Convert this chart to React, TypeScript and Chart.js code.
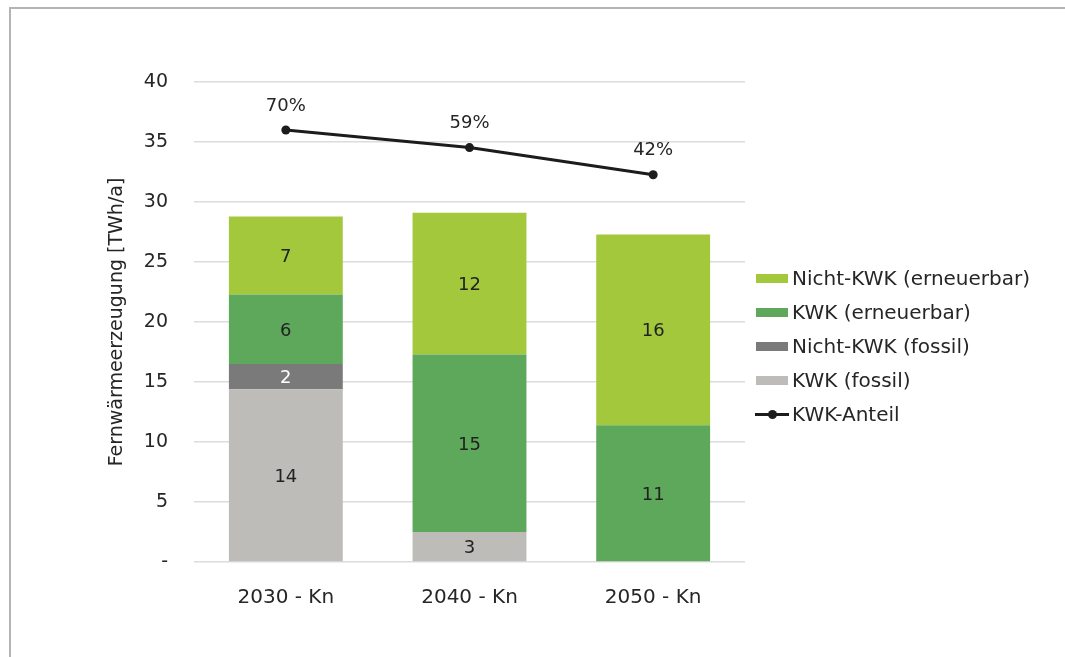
import React, { useEffect, useRef } from "react";
import { Chart, registerables } from "chart.js";

Chart.register(...registerables);

// ---- data ----
const categories = ["2030 - Kn", "2040 - Kn", "2050 - Kn"];
const kwkFossil = [14.4, 2.5, 0];
const nichtKwkFossil = [2.1, 0, 0];
const kwkErneuerbar = [5.8, 14.8, 11.4];
const nichtKwkErneuerbar = [6.5, 11.8, 15.9];
const kwkAnteil = [70, 59, 42];
const yTickValues = [0, 5, 10, 15, 20, 25, 30, 35, 40];

const seriesNames = [
  "KWK (fossil)",
  "Nicht-KWK (fossil)",
  "KWK (erneuerbar)",
  "Nicht-KWK (erneuerbar)",
];
const lineName = "KWK-Anteil";
const yTitle = "Fernwärmeerzeugung [TWh/a]";

// ---- styles ----
const FONT = "'DejaVu Sans', Verdana, sans-serif";
const barColors = ["#bdbcb8", "#7a7a7a", "#5da85b", "#a3c83b"];
const barLabelColors = ["#222222", "#ffffff", "#222222", "#222222"];
const lineColor = "#1c1c1c";
const textColor = "#262626";

const labelsPlugin = {
  id: "segmentLabels",
  afterDatasetsDraw(chart: any) {
    const ctx = chart.ctx;
    ctx.save();
    ctx.textAlign = "center";
    ctx.textBaseline = "middle";
    chart.data.datasets.forEach((ds: any, i: number) => {
      const meta = chart.getDatasetMeta(i);
      if (meta.hidden) return;
      meta.data.forEach((el: any, j: number) => {
        const v = ds.data[j];
        if (!v) return;
        ctx.font = `18px ${FONT}`;
        if (ds.type === "line") {
          ctx.fillStyle = textColor;
          ctx.fillText(`${v}%`, el.x, el.y - 24);
        } else {
          const p = el.getProps(["x", "y", "base"], true);
          ctx.fillStyle = ds.labelColor;
          ctx.fillText(String(Math.round(v)), p.x, (p.y + p.base) / 2 + 2);
        }
      });
    });
    ctx.restore();
  },
};

export default function App() {
  const canvasRef = useRef<HTMLCanvasElement | null>(null);

  useEffect(() => {
    if (!canvasRef.current) return;
    const barSeries = [kwkFossil, nichtKwkFossil, kwkErneuerbar, nichtKwkErneuerbar];
    const chart = new Chart(canvasRef.current, {
      type: "bar",
      data: {
        labels: categories,
        datasets: [
          {
            type: "line",
            label: lineName,
            data: kwkAnteil,
            yAxisID: "y1",
            borderColor: lineColor,
            backgroundColor: lineColor,
            borderWidth: 3,
            pointRadius: 4.5,
            pointBackgroundColor: lineColor,
            pointBorderWidth: 0,
            order: 0,
          } as any,
          ...barSeries.map((d, i) => ({
            type: "bar",
            label: seriesNames[i],
            data: d,
            backgroundColor: barColors[i],
            borderWidth: 0,
            stack: "s",
            yAxisID: "y",
            order: 1,
            labelColor: barLabelColors[i],
            categoryPercentage: 1,
            barPercentage: 0.62,
          })),
        ],
      },
      options: {
        animation: false,
        responsive: true,
        maintainAspectRatio: false,
        layout: { padding: { left: 106, right: 320, top: 82, bottom: 0 } },
        plugins: { legend: { display: false }, tooltip: { enabled: false } },
        scales: {
          x: {
            stacked: true,
            grid: { display: false },
            border: { display: false },
            ticks: { color: textColor, font: { family: FONT, size: 20 }, padding: 16 },
            afterFit(scale: any) {
              scale.height = 95;
            },
          },
          y: {
            stacked: true,
            min: 0,
            max: 40,
            afterBuildTicks(scale: any) {
              scale.ticks = yTickValues.map((v) => ({ value: v }));
            },
            grid: { color: "#dcdcdc", lineWidth: 1.5, drawTicks: false },
            border: { display: false },
            ticks: {
              color: textColor,
              font: { family: FONT, size: 19 },
              padding: 26,
              callback: (v: any) => (v === 0 ? "-" : String(v)),
            },
            title: {
              display: true,
              text: yTitle,
              color: textColor,
              font: { family: FONT, size: 19 },
              padding: { top: 0, bottom: 0 },
            },
            afterFit(scale: any) {
              scale.width = 88;
            },
          },
          y1: {
            display: false,
            min: -200,
            max: 100,
          },
        },
      },
      plugins: [labelsPlugin],
    });
    return () => chart.destroy();
  }, []);

  const legendItems = [3, 2, 1, 0].map((i) => ({ name: seriesNames[i], color: barColors[i] }));

  return (
    <div
      style={{
        position: "fixed",
        left: 0,
        top: 0,
        width: 1065,
        height: 657,
        background: "#fff",
        overflow: "hidden",
      }}
    >
      <div
        style={{
          position: "absolute",
          left: 9,
          top: 7,
          width: 1100,
          height: 700,
          borderTop: "2px solid #b4b4b4",
          borderLeft: "2px solid #b4b4b4",
        }}
      />
      <div style={{ position: "absolute", left: 0, top: 0, width: 1065, height: 657 }}>
        <canvas ref={canvasRef} />
      </div>
      <div
        style={{
          position: "absolute",
          left: 755,
          top: 261,
          fontFamily: FONT,
          fontSize: 20,
          color: textColor,
        }}
      >
        {legendItems.map((it) => (
          <div key={it.name} style={{ display: "flex", alignItems: "center", height: 34 }}>
            <span
              style={{
                display: "inline-block",
                width: 32,
                height: 9,
                background: it.color,
                marginLeft: 1,
                marginRight: 4,
              }}
            />
            <span>{it.name}</span>
          </div>
        ))}
        <div style={{ display: "flex", alignItems: "center", height: 34 }}>
          <span
            style={{
              position: "relative",
              display: "inline-block",
              width: 34,
              height: 9,
              marginRight: 3,
            }}
          >
            <span
              style={{
                position: "absolute",
                left: 0,
                top: 3,
                width: 34,
                height: 3,
                background: lineColor,
              }}
            />
            <span
              style={{
                position: "absolute",
                left: 12.5,
                top: 0,
                width: 9,
                height: 9,
                borderRadius: "50%",
                background: lineColor,
              }}
            />
          </span>
          <span>{lineName}</span>
        </div>
      </div>
    </div>
  );
}
